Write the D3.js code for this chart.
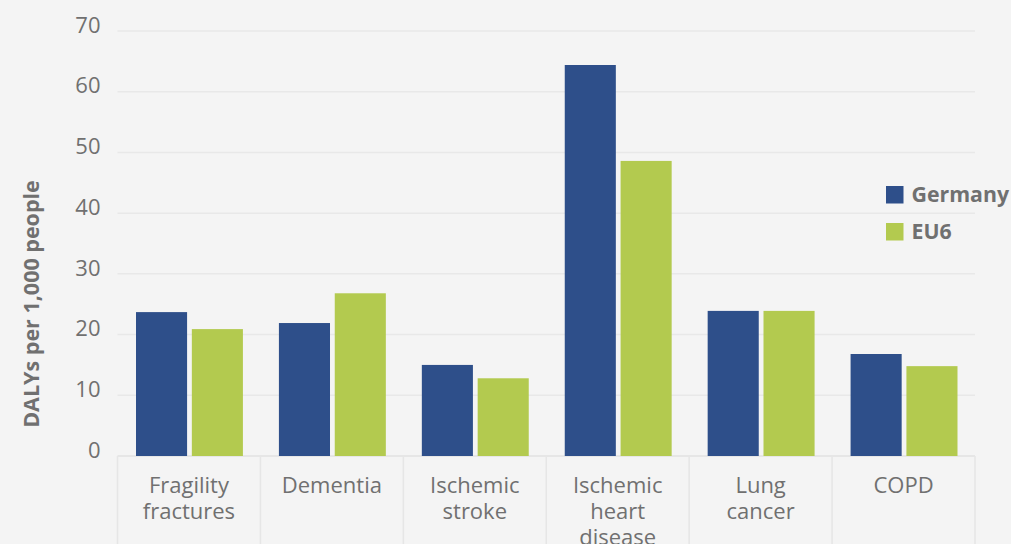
<!DOCTYPE html>
<html>
<head>
<meta charset="utf-8">
<script src="https://cdn.jsdelivr.net/npm/d3@7"></script>
<style>
  body { margin: 0; background: #f4f4f4; }
  svg { display: block; font-family: "Open Sans", sans-serif; }
</style>
</head>
<body>
<div id="chart"></div>
<script>
var categories = ["Fragility fractures", "Dementia", "Ischemic stroke", "Ischemic heart disease", "Lung cancer", "COPD"];
var categoryLines = [["Fragility", "fractures"], ["Dementia"], ["Ischemic", "stroke"], ["Ischemic", "heart", "disease"], ["Lung", "cancer"], ["COPD"]];
var series = ["Germany", "EU6"];
var germany = [23.7, 21.9, 15.0, 64.4, 23.9, 16.8];
var eu6 = [20.9, 26.8, 12.8, 48.6, 23.9, 14.8];
var yTicks = [0, 10, 20, 30, 40, 50, 60, 70];
var colors = ["#2e4f8a", "#b3ca4f"];

var W = 1011, H = 544;
var margin = { top: 31, left: 117.5, right: 36, bottom: 88 };
var width = W - margin.left - margin.right,
    height = H - margin.top - margin.bottom;

var svg = d3.select("#chart").append("svg")
    .attr("width", W)
    .attr("height", H);

svg.append("rect").attr("width", W).attr("height", H).attr("fill", "#f4f4f4");

var g = svg.append("g")
    .attr("transform", "translate(" + margin.left + "," + margin.top + ")");

var x0 = d3.scaleBand().domain(categories).range([0, width]).padding(0);
var x1 = d3.scaleBand().domain(series).range([18.5, x0.bandwidth() - 17.5]).paddingInner(0.085);
var y = d3.scaleLinear().domain([0, 70]).range([height, 0]);

// grid
g.selectAll(".grid")
    .data(yTicks)
    .enter().append("line")
    .attr("x1", 0)
    .attr("x2", width)
    .attr("y1", function(d) { return y(d); })
    .attr("y2", function(d) { return y(d); })
    .attr("stroke", function(d) { return d === 0 ? "#e2e2e2" : "#e8e8e8"; })
    .attr("stroke-width", 1.5);

// category separators below the baseline
g.selectAll(".sep")
    .data(d3.range(categories.length + 1))
    .enter().append("line")
    .attr("x1", function(i) { return i * x0.step(); })
    .attr("x2", function(i) { return i * x0.step(); })
    .attr("y1", height)
    .attr("y2", H)
    .attr("stroke", "#e6e6e6")
    .attr("stroke-width", 1.5);

// y tick labels
g.selectAll(".ytick")
    .data(yTicks)
    .enter().append("text")
    .attr("x", -17)
    .attr("y", function(d) { return y(d) - 6; })
    .attr("dy", "0.35em")
    .attr("text-anchor", "end")
    .style("font-size", "22px")
    .style("fill", "#707070")
    .text(function(d) { return d; });

// bars
var data = categories.map(function(c, i) {
    return { cat: c, vals: [germany[i], eu6[i]] };
});

var groups = g.selectAll(".cat")
    .data(data)
    .enter().append("g")
    .attr("transform", function(d) { return "translate(" + x0(d.cat) + ",0)"; });

groups.selectAll("rect")
    .data(function(d) { return series.map(function(s, j) { return { s: s, v: d.vals[j], j: j }; }); })
    .enter().append("rect")
    .attr("x", function(d) { return x1(d.s); })
    .attr("width", x1.bandwidth())
    .attr("y", function(d) { return y(d.v); })
    .attr("height", function(d) { return height - y(d.v); })
    .attr("fill", function(d) { return colors[d.j]; });

// x labels
groups.each(function(d, i) {
    var t = d3.select(this).append("text")
        .attr("text-anchor", "middle")
        .style("font-size", "22px")
        .style("fill", "#707070");
    categoryLines[i].forEach(function(line, k) {
        t.append("tspan")
            .attr("x", x0.bandwidth() / 2)
            .attr("y", height + 36.5 + k * 26)
            .text(line);
    });
});

// y axis title
svg.append("text")
    .attr("transform", "translate(39," + 304 + ") rotate(-90)")
    .attr("text-anchor", "middle")
    .style("font-size", "21.5px")
    .style("font-weight", "bold")
    .style("fill", "#707070")
    .text("DALYs per 1,000 people");

// legend
var legend = svg.selectAll(".legend")
    .data(series)
    .enter().append("g")
    .attr("transform", function(d, i) { return "translate(886," + (186 + i * 37) + ")"; });

legend.append("rect")
    .attr("width", 17.5)
    .attr("height", 17.5)
    .attr("fill", function(d, i) { return colors[i]; });

legend.append("text")
    .attr("x", 25.5)
    .attr("y", 16)
    .style("font-size", "21.3px")
    .style("font-weight", "bold")
    .style("fill", "#707070")
    .text(function(d) { return d; });
</script>
</body>
</html>
